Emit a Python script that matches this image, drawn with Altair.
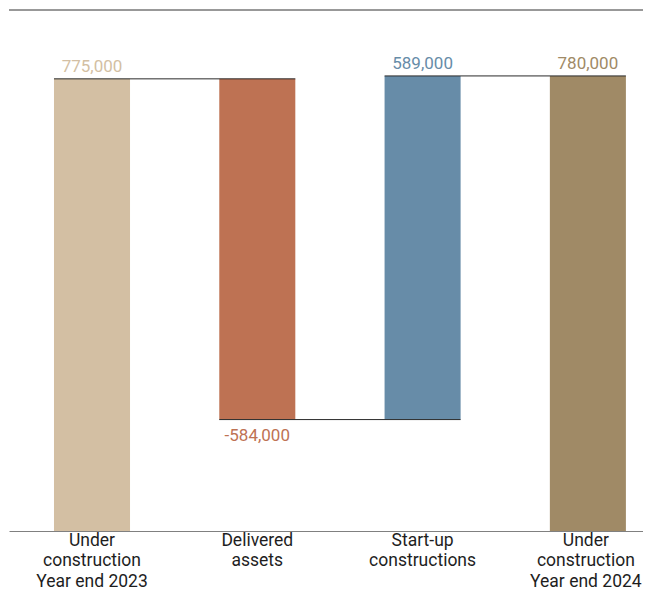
import altair as alt
import pandas as pd

categories = ["c1", "c2", "c3", "c4"]
axis_labels = ["Under|construction|Year end 2023", "Delivered|assets", "Start-up|constructions", "Under|construction|Year end 2024"]
deltas = [775000, -584000, 589000, 780000]
is_total = [True, False, False, True]
colors = ["#D3BFA3", "#BE7253", "#678CA8", "#A08A66"]
label_texts = ["775,000", "-584,000", "589,000", "780,000"]

# waterfall starts / ends
rows = []
running = 0
for cat, d, tot, col, lab in zip(categories, deltas, is_total, colors, label_texts):
    if tot:
        start, end = 0, d
        running = d
    else:
        start, end = running, running + d
        running = end
    rows.append({"cat": cat, "start": start, "end": end, "color": col, "label": lab,
                 "top": max(start, end), "bottom": min(start, end), "neg": d < 0})
df = pd.DataFrame(rows)

conn = []
for i in range(len(rows) - 1):
    conn.append({"cat": rows[i]["cat"], "next": rows[i + 1]["cat"], "level": rows[i]["end"]})
cdf = pd.DataFrame(conn)

label_map = "{" + ",".join(f"'{c}': '{l}'" for c, l in zip(categories, axis_labels)) + "}"

W, H = 634, 521
FONT = "Roboto"

xscale = alt.Scale(domain=categories, paddingInner=0.54, paddingOuter=0.1878, align=0.7246)
yscale = alt.Scale(domain=[0, 893000])

bars = alt.Chart(df).mark_bar().encode(
    x=alt.X("cat:N", scale=xscale, sort=categories, title=None,
            axis=alt.Axis(labelExpr=f"split({label_map}[datum.value], '|')", labelAngle=0,
                          labelFont=FONT, labelFontSize=17.5, labelColor="#1e1e1e",
                          labelLineHeight=20.6, labelPadding=14.3, ticks=False,
                          labelOffset=alt.condition("datum.value === 'c4'", alt.value(-2), alt.value(0)),
                          domainColor="#808080", domainWidth=1, labelBaseline="alphabetic")),
    y=alt.Y("start:Q", scale=yscale, axis=None),
    y2="end:Q",
    color=alt.Color("color:N", scale=None),
)

pos_labels = alt.Chart(df[~df["neg"]]).mark_text(baseline="alphabetic", dy=-7, font=FONT, fontSize=17).encode(
    x=alt.X("cat:N", scale=xscale, sort=categories),
    y=alt.Y("top:Q", scale=yscale),
    text="label:N",
    color=alt.Color("color:N", scale=None),
)
neg_labels = alt.Chart(df[df["neg"]]).mark_text(baseline="top", dy=8, font=FONT, fontSize=17).encode(
    x=alt.X("cat:N", scale=xscale, sort=categories),
    y=alt.Y("bottom:Q", scale=yscale),
    text="label:N",
    color=alt.Color("color:N", scale=None),
)

connectors = alt.Chart(cdf).mark_rule(color="#2a2a2a", strokeWidth=1).encode(
    x=alt.X("cat:N", scale=xscale, sort=categories, bandPosition=0),
    x2=alt.X2("next:N", bandPosition=1),
    y=alt.Y("level:Q", scale=yscale),
)

topline = alt.Chart(pd.DataFrame({"a": [0]})).mark_rule(color="#333333", strokeWidth=1).encode(
    y=alt.value(0), x=alt.value(0), x2=alt.value(W)
)

chart = alt.layer(bars, connectors, pos_labels, neg_labels, topline).properties(
    width=W, height=H,
    autosize=alt.AutoSizeParams(type="none"),
    padding={"left": 1, "top": 2, "right": 0, "bottom": 60},
).configure_view(stroke=None)

chart.save("out.html", embed_options={"renderer": "svg", "actions": False})
